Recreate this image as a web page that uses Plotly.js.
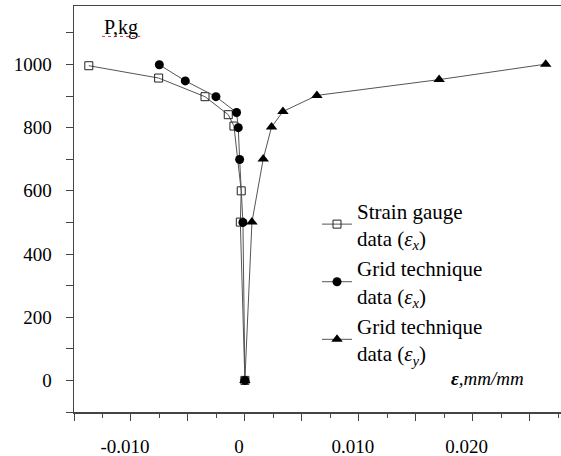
<!DOCTYPE html>
<html>
<head>
<meta charset="utf-8">
<script src="https://cdn.plot.ly/plotly-3.0.1.min.js"></script>
</head>
<body style="margin:0;background:#fff">
<div id="chart" style="width:561px;height:456px"></div>
<script>
// Strain gauge data (eps_x) - open squares
var sgStrain = [0.0000, -0.0004, -0.00032, -0.00096, -0.00146, -0.0035, -0.00757, -0.0137];
var sgLoad   = [0, 501, 600, 805, 841, 898, 957, 996];
// Grid technique data (eps_x) - filled circles
var gxStrain = [0.0000, -0.00017, -0.00046, -0.00058, -0.00073, -0.00254, -0.00523, -0.00751];
var gxLoad   = [0, 500, 699, 800, 848, 898, 948, 999];
// Grid technique data (eps_y) - filled triangles
var gyStrain = [0.0000, 0.00062, 0.00161, 0.00234, 0.00334, 0.00632, 0.01705, 0.02641];
var gyLoad   = [0, 501, 701, 802, 851, 902, 952, 1001];

var seriesNames = ['Strain gauge<br>data (<i>ε<sub>x</sub></i>)',
                   'Grid technique<br>data (<i>ε<sub>x</sub></i>)',
                   'Grid technique<br>data (<i>ε<sub>y</sub></i>)'];

var xTickVals = [-0.015, -0.01, -0.005, 0, 0.005, 0.01, 0.015, 0.02, 0.025];
var xTickText = ['', '-0.010', '', '0', '', '0.010', '', '0.020', ''];
var yTickVals = [0, 200, 400, 600, 800, 1000];
var yTickText = ['0', '200', '400', '600', '800', '1000'];

var FONT = 'serif';
var lineStyle = {color: '#555', width: 1};

var traces = [
  {x: sgStrain, y: sgLoad, name: seriesNames[0], mode: 'lines+markers', type: 'scatter',
   line: lineStyle, marker: {symbol: 'square-open', size: 8, color: '#222', line: {width: 1, color: '#222'}}},
  {x: gxStrain, y: gxLoad, name: seriesNames[1], mode: 'lines+markers', type: 'scatter',
   line: lineStyle, marker: {symbol: 'circle', size: 9, color: '#000'}},
  {x: gyStrain, y: gyLoad, name: seriesNames[2], mode: 'lines+markers', type: 'scatter',
   line: lineStyle, marker: {symbol: 'triangle-up', size: 10, color: '#000'}}
];

var layout = {
  width: 561, height: 456,
  margin: {l: 74, r: 0, t: 6, b: 44},
  paper_bgcolor: '#fff', plot_bgcolor: '#fff',
  font: {family: FONT, color: '#000', size: 19},
  showlegend: true,
  legend: {x: 0.499, y: 0.546, xanchor: 'left', yanchor: 'top',
           bgcolor: 'rgba(0,0,0,0)', font: {family: FONT, size: 21, color: '#000'},
           tracegroupgap: 0, itemwidth: 30},
  xaxis: {
    range: [-0.015, 0.02775], showgrid: false, zeroline: false,
    showline: true, linecolor: '#444', linewidth: 1.5, mirror: true,
    ticks: 'outside', ticklen: 7, tickcolor: '#444', tickwidth: 1,
    tickmode: 'array', tickvals: xTickVals, ticktext: xTickText,
    ticklabelstandoff: 10, ticklabelshift: -6,
    tickfont: {family: FONT, size: 19, color: '#000'},
    minor: {dtick: 0.0025, tick0: 0, ticks: 'outside', ticklen: 4, tickcolor: '#444', tickwidth: 1}
  },
  yaxis: {
    range: [-100, 1185], showgrid: false, zeroline: false,
    showline: true, linecolor: '#444', linewidth: 1.5,
    ticks: 'outside', ticklen: 7, tickcolor: '#444', tickwidth: 1,
    tickmode: 'array', tickvals: yTickVals, ticktext: yTickText,
    ticklabelstandoff: 10,
    tickfont: {family: FONT, size: 19, color: '#000'},
    minor: {dtick: 100, tick0: 0, ticks: 'outside', ticklen: 7, tickcolor: '#444', tickwidth: 1}
  },
  annotations: [
    {xref: 'paper', yref: 'paper', x: 0.0575, y: 0.948, xanchor: 'left', yanchor: 'middle',
     text: 'P,kg', showarrow: false, font: {family: FONT, size: 20, color: '#000'}},
    {xref: 'paper', yref: 'paper', x: 0.77, y: 0.0837, xanchor: 'left', yanchor: 'middle',
     text: '<b><i>ε</i></b><i>,mm/mm</i>', showarrow: false, font: {family: FONT, size: 19, color: '#000'}}
  ],
  shapes: [
    {type: 'line', xref: 'paper', yref: 'paper', x0: 0.0575, x1: 0.136, y0: 0.925, y1: 0.925,
     line: {color: '#d04040', width: 1, dash: 'dot'}}
  ]
};

Plotly.newPlot('chart', traces, layout, {staticPlot: true});
</script>
</body>
</html>
